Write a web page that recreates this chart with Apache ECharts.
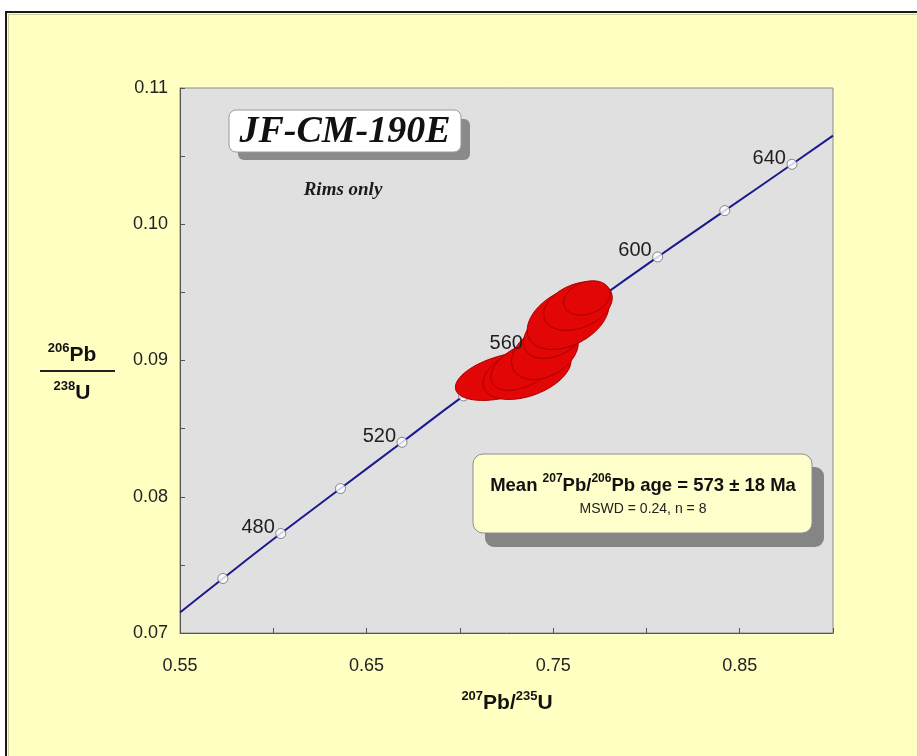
<!DOCTYPE html>
<html>
<head>
<meta charset="utf-8">
<script src="https://cdn.jsdelivr.net/npm/echarts@6/dist/echarts.min.js"></script>
<style>
  html, body { margin: 0; padding: 0; background: #ffffff; }
  #chart { width: 917px; height: 756px; }
</style>
</head>
<body>
<div id="chart"></div>
<script>
// Concordia curve: 207Pb/235U vs 206Pb/238U, with age marks every 20 Ma
const concordiaAges = [460, 480, 500, 520, 540, 560, 580, 600, 620, 640];
const concordiaX = [0.573, 0.604, 0.636, 0.669, 0.702, 0.737, 0.771, 0.806, 0.842, 0.878];
const concordiaY = [0.0740, 0.0773, 0.0806, 0.0840, 0.0874, 0.0908, 0.0942, 0.0976, 0.1010, 0.1044];
// where the curve meets the left and right edges of the plot
const curveStart = [0.55, 0.0715];
const curveEnd = [0.90, 0.1065];
const labelledAges = [480, 520, 560, 600, 640];

// Zircon rim analyses: ratio centres, 2-sigma errors and error correlation
const spotX = [0.7247, 0.7360, 0.7344, 0.7456, 0.7510, 0.7580, 0.7633, 0.7681];
const spotY = [0.08886, 0.08916, 0.08960, 0.09062, 0.09202, 0.09312, 0.09400, 0.09459];
const spotErrX = [0.0271, 0.0236, 0.0178, 0.0179, 0.0169, 0.0219, 0.0184, 0.0124];
const spotErrY = [0.00179, 0.00202, 0.00179, 0.00202, 0.00187, 0.00232, 0.00179, 0.00126];
const spotRho = [0.46, 0.41, 0.46, 0.34, 0.36, 0.39, 0.34, 0.26];

// Axis tick labels
const xTickLabels = ['0.55', '0.65', '0.75', '0.85'];
const yTickLabels = ['0.07', '0.08', '0.09', '0.10', '0.11'];

const FONT = 'Liberation Sans';
const SERIF = 'Liberation Serif';

const curveData = [curveStart]
  .concat(concordiaX.map((x, i) => [x, concordiaY[i]]))
  .concat([curveEnd]);
const markerData = concordiaX.map((x, i) => [x, concordiaY[i], concordiaAges[i]]);
const ageLabelData = markerData.filter(d => labelledAges.indexOf(d[2]) >= 0);
const spotData = spotX.map((x, i) => [x, spotY[i], spotErrX[i], spotErrY[i], spotRho[i]]);

// error ellipse from centre, x/y errors and their correlation
function renderEllipse(params, api) {
  const cx = api.value(0), cy = api.value(1);
  const sx = api.value(2), sy = api.value(3), r = api.value(4);
  const k = Math.sqrt(1 - r * r);
  const pts = [];
  const n = 90;
  for (let j = 0; j < n; j++) {
    const t = j / n * Math.PI * 2;
    const dx = sx * Math.cos(t);
    const dy = sy * (r * Math.cos(t) + k * Math.sin(t));
    pts.push(api.coord([cx + dx, cy + dy]));
  }
  return {
    type: 'polygon',
    shape: { points: pts },
    style: { fill: '#e20606', stroke: '#a80000', lineWidth: 1 }
  };
}

// age number placed up and to the left of its mark
function renderAgeLabel(params, api) {
  const p = api.coord([api.value(0), api.value(1)]);
  return {
    type: 'text',
    x: p[0] - 6,
    y: p[1] - 6,
    style: {
      text: String(api.value(2)),
      fontFamily: FONT, fontSize: 20, fill: '#1e1e1e',
      align: 'right', verticalAlign: 'middle'
    }
  };
}

const chart = echarts.init(document.getElementById('chart'), null, { renderer: 'canvas' });

const supRich = {
  b: { fontFamily: FONT, fontSize: 21, fontWeight: 'bold', fill: '#111111', lineHeight: 24, verticalAlign: 'bottom' },
  s: { fontFamily: FONT, fontSize: 13, fontWeight: 'bold', fill: '#111111', lineHeight: 14, verticalAlign: 'top' }
};

chart.setOption({
  backgroundColor: '#ffffff',
  animation: false,
  grid: {
    left: 180, right: 84, top: 88, bottom: 123,
    show: true,
    backgroundColor: '#e0e0e0',
    borderColor: '#8c8c8c',
    borderWidth: 1
  },
  xAxis: {
    type: 'value',
    min: 0.55, max: 0.90, interval: 0.05,
    splitLine: { show: false },
    axisLine: { show: true, lineStyle: { color: '#555555', width: 1 } },
    axisTick: { show: true, inside: true, length: 5, lineStyle: { color: '#555555' } },
    axisLabel: {
      margin: 24,
      fontFamily: FONT, fontSize: 18, color: '#222222',
      formatter: v => {
        const s = v.toFixed(2);
        return xTickLabels.indexOf(s) >= 0 ? s : '';
      }
    }
  },
  yAxis: {
    type: 'value',
    min: 0.07, max: 0.11, interval: 0.005,
    splitLine: { show: false },
    axisLine: { show: true, lineStyle: { color: '#555555', width: 1 } },
    axisTick: { show: true, inside: true, length: 5, lineStyle: { color: '#555555' } },
    axisLabel: {
      margin: 12,
      fontFamily: FONT, fontSize: 18, color: '#222222',
      formatter: v => {
        const s = v.toFixed(2);
        return (yTickLabels.indexOf(s) >= 0 && Math.abs(v * 100 - Math.round(v * 100)) < 1e-6) ? s : '';
      }
    }
  },
  series: [
    {
      name: 'Concordia',
      type: 'line',
      data: curveData,
      showSymbol: false,
      smooth: true,
      lineStyle: { color: '#1a1a8e', width: 2 },
      z: 3
    },
    {
      name: 'Age marks',
      type: 'scatter',
      data: markerData,
      symbol: 'circle',
      symbolSize: 10,
      itemStyle: { color: '#ffffff', borderColor: '#6a6a78', borderWidth: 1 },
      z: 4
    },
    {
      name: 'Rims',
      type: 'custom',
      data: spotData,
      encode: { x: 0, y: 1 },
      renderItem: renderEllipse,
      z: 5
    },
    {
      name: 'Age labels',
      type: 'custom',
      data: ageLabelData,
      encode: { x: 0, y: 1 },
      renderItem: renderAgeLabel,
      silent: true,
      z: 10
    }
  ],
  graphic: [
    // page frame
    {
      type: 'rect', z: -10, silent: true,
      shape: { x: 6, y: 12, width: 940, height: 780 },
      style: { fill: '#ffffc2', stroke: '#1a1a1a', lineWidth: 2 }
    },
    {
      type: 'rect', z: -9, silent: true,
      shape: { x: 8.5, y: 14.5, width: 940, height: 780 },
      style: { fill: 'none', stroke: '#cfcf98', lineWidth: 1 }
    },
    // sample name box
    {
      type: 'rect', z: 20, silent: true,
      shape: { x: 238, y: 119, width: 232, height: 41, r: 6 },
      style: { fill: '#8a8a8a' }
    },
    {
      type: 'rect', z: 21, silent: true,
      shape: { x: 229, y: 110, width: 232, height: 42, r: 7 },
      style: { fill: '#ffffff', stroke: '#9a9a9a', lineWidth: 1 }
    },
    {
      type: 'text', z: 22, silent: true,
      x: 345, y: 132,
      style: {
        text: 'JF-CM-190E',
        fontFamily: SERIF, fontSize: 38, fontWeight: 'bold', fontStyle: 'italic',
        fill: '#111111', align: 'center', verticalAlign: 'middle'
      }
    },
    {
      type: 'text', z: 22, silent: true,
      x: 343, y: 190,
      style: {
        text: 'Rims only',
        fontFamily: SERIF, fontSize: 19, fontWeight: 'bold', fontStyle: 'italic',
        fill: '#1a1a1a', align: 'center', verticalAlign: 'middle'
      }
    },
    // mean age box
    {
      type: 'rect', z: 20, silent: true,
      shape: { x: 485, y: 467, width: 339, height: 80, r: 9 },
      style: { fill: '#858585' }
    },
    {
      type: 'rect', z: 21, silent: true,
      shape: { x: 473, y: 454, width: 339, height: 79, r: 10 },
      style: { fill: '#ffffcc', stroke: '#8e8e8e', lineWidth: 1 }
    },
    {
      type: 'text', z: 22, silent: true,
      x: 643, y: 484,
      style: {
        text: '{b|Mean }{s|207}{b|Pb/}{s|206}{b|Pb age = 573 ± 18 Ma}',
        align: 'center', verticalAlign: 'middle',
        rich: {
          b: { fontFamily: FONT, fontSize: 18.5, fontWeight: 'bold', fill: '#111111', lineHeight: 22, verticalAlign: 'bottom' },
          s: { fontFamily: FONT, fontSize: 12, fontWeight: 'bold', fill: '#111111', lineHeight: 12, verticalAlign: 'top' }
        }
      }
    },
    {
      type: 'text', z: 22, silent: true,
      x: 643, y: 509,
      style: {
        text: 'MSWD = 0.24, n = 8',
        fontFamily: FONT, fontSize: 14, fill: '#222222',
        align: 'center', verticalAlign: 'middle'
      }
    },
    // y-axis title as a fraction
    {
      type: 'text', z: 22, silent: true,
      x: 72, y: 354,
      style: { text: '{s|206}{b|Pb}', align: 'center', verticalAlign: 'middle', rich: supRich }
    },
    {
      type: 'line', z: 22, silent: true,
      shape: { x1: 40, y1: 371, x2: 115, y2: 371 },
      style: { stroke: '#222222', lineWidth: 2 }
    },
    {
      type: 'text', z: 22, silent: true,
      x: 72, y: 392,
      style: { text: '{s|238}{b|U}', align: 'center', verticalAlign: 'middle', rich: supRich }
    },
    // x-axis title
    {
      type: 'text', z: 22, silent: true,
      x: 507, y: 702,
      style: { text: '{s|207}{b|Pb/}{s|235}{b|U}', align: 'center', verticalAlign: 'middle', rich: supRich }
    }
  ]
});
</script>
</body>
</html>
